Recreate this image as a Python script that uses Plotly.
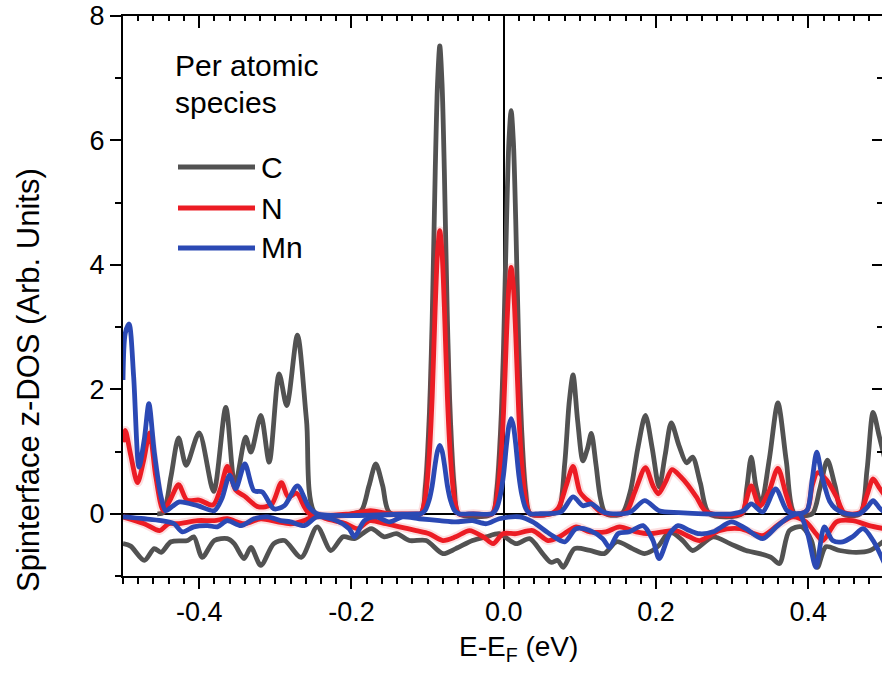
import plotly.graph_objects as go

# Energy axis (eV, relative to E_F) and spinterface z-DOS per atomic species.
# Each species has a positive and a negative branch, drawn in the same colour.

C_POS_E = [-0.455, -0.447, -0.437, -0.427, -0.417, -0.400, -0.381, -0.365, -0.353,
           -0.339, -0.332, -0.319, -0.308, -0.295, -0.285, -0.271, -0.259, -0.247,
           -0.200, -0.187, -0.177, -0.168, -0.159, -0.150,
           -0.109, -0.103, -0.098, -0.094, -0.090, -0.087, -0.084, -0.081, -0.078, -0.074, -0.070, -0.065, -0.059,
           -0.0153, -0.0093, -0.0043, -0.0003, 0.0037, 0.0067, 0.0097, 0.0127, 0.0157, 0.0197, 0.0237, 0.0287, 0.0347,
           0.062, 0.072, 0.080, 0.086, 0.091, 0.097, 0.104, 0.110, 0.115, 0.121, 0.127, 0.134,
           0.155, 0.166, 0.176, 0.186, 0.195, 0.204, 0.212, 0.220, 0.230, 0.240, 0.248, 0.258, 0.270,
           0.313, 0.319, 0.325, 0.331, 0.338, 0.349, 0.360, 0.371, 0.382,
           0.405, 0.415, 0.425, 0.435, 0.445,
           0.468, 0.477, 0.485, 0.493, 0.500]
C_POS_DOS = [0.00, 0.02, 0.60, 1.22, 0.78, 1.30, 0.36, 1.71, 0.45,
             1.23, 0.99, 1.58, 0.83, 2.25, 1.74, 2.87, 1.50, 0.00,
             0.00, 0.05, 0.45, 0.80, 0.45, 0.02,
             0.00, 0.43, 1.50, 3.10, 5.50, 6.90, 7.52, 6.90, 5.50, 3.10, 1.50, 0.43, 0.00,
             0.00, 0.37, 1.30, 2.66, 4.73, 5.96, 6.48, 5.96, 4.73, 2.66, 1.30, 0.37, 0.00,
             0.00, 0.05, 0.80, 1.80, 2.23, 1.50, 0.85, 1.05, 1.29, 0.80, 0.25, 0.00,
             0.00, 0.35, 1.05, 1.58, 1.05, 0.43, 0.95, 1.46, 1.10, 0.82, 0.91, 0.50, 0.00,
             0.00, 0.40, 0.91, 0.45, 0.16, 0.90, 1.78, 0.85, 0.00,
             0.00, 0.40, 0.86, 0.45, 0.00,
             0.00, 0.70, 1.63, 1.25, 0.90]

C_NEG_E = [-0.500, -0.490, -0.472, -0.459, -0.450, -0.437, -0.415, -0.407, -0.396, -0.380,
           -0.363, -0.354, -0.341, -0.332, -0.319, -0.302, -0.288, -0.266, -0.245, -0.227,
           -0.211, -0.196, -0.174, -0.157, -0.141, -0.124, -0.102, -0.080, -0.063, -0.041,
           -0.023, -0.006, 0.016, 0.034, 0.051, 0.062, 0.071, 0.078, 0.093, 0.113,
           0.132, 0.148, 0.169, 0.185, 0.202, 0.218, 0.235, 0.248, 0.275, 0.297,
           0.318, 0.336, 0.351, 0.362, 0.375, 0.391, 0.404, 0.412, 0.423, 0.441,
           0.463, 0.481, 0.500]
C_NEG_DOS = [-0.48, -0.52, -0.75, -0.56, -0.62, -0.45, -0.43, -0.37, -0.70, -0.43,
             -0.40, -0.48, -0.72, -0.54, -0.83, -0.48, -0.43, -0.70, -0.21, -0.59,
             -0.37, -0.40, -0.24, -0.37, -0.32, -0.43, -0.43, -0.64, -0.56, -0.43,
             -0.37, -0.32, -0.48, -0.40, -0.64, -0.78, -0.75, -0.86, -0.56, -0.59,
             -0.64, -0.45, -0.56, -0.64, -0.53, -0.29, -0.43, -0.59, -0.37, -0.48,
             -0.59, -0.64, -0.70, -0.80, -0.27, -0.21, -0.43, -0.86, -0.53, -0.59,
             -0.62, -0.59, -0.43]

N_POS_E = [-0.500, -0.497, -0.490, -0.481, -0.473, -0.465, -0.457, -0.447,
           -0.437, -0.427, -0.416, -0.400, -0.382, -0.372, -0.363, -0.352, -0.340, -0.322,
           -0.305, -0.292, -0.283, -0.272, -0.255,
           -0.200, -0.175, -0.150, -0.115,
           -0.109, -0.103, -0.098, -0.094, -0.090, -0.087, -0.084, -0.081, -0.078, -0.074, -0.070, -0.065, -0.059,
           -0.040,
           -0.0153, -0.0093, -0.0043, -0.0003, 0.0037, 0.0067, 0.0097, 0.0127, 0.0157, 0.0197, 0.0237, 0.0287, 0.0347,
           0.062, 0.072, 0.082, 0.091, 0.100, 0.107, 0.115, 0.125, 0.135,
           0.160, 0.172, 0.186, 0.196, 0.203, 0.212, 0.221, 0.232, 0.242, 0.253, 0.266,
           0.312, 0.318, 0.325, 0.336, 0.348, 0.360, 0.371, 0.381,
           0.398, 0.405, 0.412, 0.424, 0.437, 0.447,
           0.468, 0.477, 0.485, 0.493, 0.500]
N_POS_DOS = [1.15, 1.34, 0.95, 0.50, 0.85, 1.30, 0.60, 0.05,
             0.25, 0.47, 0.22, 0.22, 0.14, 0.40, 0.76, 0.38, 0.28, 0.11,
             0.15, 0.50, 0.27, 0.33, 0.00,
             0.00, 0.05, 0.00, 0.00,
             0.00, 0.26, 0.91, 1.87, 3.32, 4.19, 4.55, 4.19, 3.32, 1.87, 0.91, 0.26, 0.00,
             0.00,
             0.00, 0.23, 0.79, 1.62, 2.89, 3.64, 3.96, 3.64, 2.89, 1.62, 0.79, 0.23, 0.00,
             0.00, 0.10, 0.45, 0.76, 0.35, 0.25, 0.17, 0.05, 0.00,
             0.02, 0.35, 0.74, 0.45, 0.32, 0.50, 0.71, 0.60, 0.46, 0.27, 0.03,
             0.00, 0.20, 0.45, 0.12, 0.35, 0.73, 0.30, 0.00,
             0.05, 0.45, 0.66, 0.54, 0.27, 0.02,
             0.02, 0.30, 0.56, 0.42, 0.30]

N_NEG_E = [-0.500, -0.472, -0.452, -0.440, -0.428, -0.402, -0.380, -0.363, -0.341, -0.319,
           -0.297, -0.280, -0.262, -0.245, -0.233, -0.207, -0.192, -0.176, -0.155, -0.137,
           -0.115, -0.098, -0.080, -0.063, -0.045, -0.027, -0.014, -0.001, 0.016, 0.038,
           0.058, 0.073, 0.095, 0.113, 0.134, 0.152, 0.174, 0.191, 0.209, 0.226,
           0.244, 0.257, 0.283, 0.310, 0.340, 0.362, 0.380, 0.397, 0.410, 0.419,
           0.437, 0.458, 0.480, 0.500]
N_NEG_DOS = [-0.05, -0.16, -0.27, -0.16, -0.16, -0.11, -0.11, -0.08, -0.16, -0.08,
             -0.13, -0.16, -0.11, -0.02, -0.08, -0.16, -0.24, -0.11, -0.16, -0.21,
             -0.27, -0.32, -0.43, -0.37, -0.27, -0.37, -0.48, -0.32, -0.32, -0.27,
             -0.43, -0.37, -0.21, -0.29, -0.29, -0.21, -0.29, -0.32, -0.29, -0.27,
             -0.37, -0.43, -0.27, -0.24, -0.35, -0.16, -0.05, -0.13, -0.32, -0.43,
             -0.13, -0.11, -0.19, -0.24]

MN_POS_E = [-0.500, -0.497, -0.492, -0.486, -0.479, -0.472, -0.466, -0.459, -0.450, -0.444,
            -0.435, -0.426, -0.402, -0.380, -0.370, -0.360, -0.352, -0.340, -0.328, -0.317,
            -0.302, -0.288, -0.271, -0.256, -0.245,
            -0.115,
            -0.109, -0.103, -0.098, -0.094, -0.090, -0.087, -0.084, -0.081, -0.078, -0.074, -0.070, -0.065, -0.059,
            -0.040,
            -0.0153, -0.0093, -0.0043, -0.0003, 0.0037, 0.0067, 0.0097, 0.0127, 0.0157, 0.0197, 0.0237, 0.0287, 0.0347,
            0.045, 0.075, 0.091, 0.104, 0.115, 0.132, 0.165, 0.185, 0.204, 0.230,
            0.300, 0.315, 0.325, 0.340, 0.357, 0.372, 0.385,
            0.398, 0.405, 0.411, 0.418, 0.428, 0.436, 0.450,
            0.467, 0.477, 0.485, 0.493, 0.500]
MN_POS_DOS = [2.15, 2.90, 3.05, 2.20, 0.75, 1.20, 1.77, 1.00, 0.27, 0.05,
              0.12, 0.19, 0.13, 0.05, 0.25, 0.62, 0.40, 0.80, 0.37, 0.35,
              0.08, 0.13, 0.45, 0.11, 0.00,
              0.00,
              0.00, 0.06, 0.22, 0.45, 0.80, 1.01, 1.10, 1.01, 0.80, 0.45, 0.22, 0.06, 0.00,
              0.00,
              0.00, 0.09, 0.31, 0.63, 1.12, 1.41, 1.53, 1.41, 1.12, 0.63, 0.31, 0.09, 0.00,
              0.00, 0.03, 0.27, 0.13, 0.16, 0.02, 0.02, 0.21, 0.05, 0.02,
              0.00, 0.05, 0.16, 0.03, 0.40, 0.05, 0.00,
              0.05, 0.55, 0.99, 0.60, 0.20, 0.08, 0.00,
              0.00, 0.10, 0.21, 0.10, 0.02]

MN_NEG_E = [-0.500, -0.472, -0.450, -0.433, -0.422, -0.407, -0.389, -0.376, -0.363, -0.345,
            -0.328, -0.310, -0.293, -0.280, -0.262, -0.245, -0.220, -0.203, -0.196, -0.183,
            -0.168, -0.150, -0.133, -0.111, -0.084, -0.063, -0.041, -0.023, -0.006, 0.021,
            0.038, 0.060, 0.080, 0.095, 0.113, 0.130, 0.139, 0.150, 0.165, 0.183,
            0.196, 0.204, 0.218, 0.229, 0.244, 0.257, 0.275, 0.299, 0.318, 0.340,
            0.358, 0.375, 0.388, 0.399, 0.410, 0.421, 0.432, 0.445, 0.458, 0.472,
            0.485, 0.500]
MN_NEG_DOS = [-0.05, -0.08, -0.11, -0.16, -0.29, -0.21, -0.19, -0.21, -0.11, -0.19,
              -0.08, -0.05, -0.11, -0.13, -0.19, -0.05, -0.11, -0.24, -0.37, -0.11,
              -0.05, -0.13, -0.05, -0.08, -0.11, -0.13, -0.11, -0.16, -0.08, -0.05,
              -0.13, -0.32, -0.45, -0.24, -0.27, -0.40, -0.54, -0.32, -0.29, -0.19,
              -0.43, -0.72, -0.32, -0.19, -0.27, -0.32, -0.29, -0.13, -0.24, -0.40,
              -0.21, -0.05, 0.00, -0.32, -0.86, -0.21, -0.43, -0.45, -0.37, -0.24,
              -0.43, -0.80]

SPECIES = ["C", "N", "Mn"]
X_TICK_VALS = [-0.4, -0.2, 0.0, 0.2, 0.4]
X_TICK_TEXT = ["-0.4", "-0.2", "0.0", "0.2", "0.4"]
Y_TICK_VALS = [0, 2, 4, 6, 8]
Y_TICK_TEXT = ["0", "2", "4", "6", "8"]

COLORS = {"C": "#525252", "N": "#ec1c24", "Mn": "#2b49b4"}
FONT = "Liberation Sans, Arial, Helvetica, sans-serif"

W, H = 882, 673
ML, MR, MT, MB = 123, 0, 16, 97
X_RANGE = [-0.5, 0.4967]
Y_RANGE = [-1, 8]

series = {
    "C": [(C_POS_E, C_POS_DOS), (C_NEG_E, C_NEG_DOS)],
    "N": [(N_POS_E, N_POS_DOS), (N_NEG_E, N_NEG_DOS)],
    "Mn": [(MN_POS_E, MN_POS_DOS), (MN_NEG_E, MN_NEG_DOS)],
}

fig = go.Figure()
for sp in SPECIES:
    for e, dos in series[sp]:
        if sp == "N":
            # faint halo around the red curves
            fig.add_trace(go.Scatter(
                x=e, y=dos, mode="lines", showlegend=False, hoverinfo="skip",
                line=dict(color="rgba(236,28,36,0.14)", width=9, shape="spline", smoothing=0.8),
            ))
        fig.add_trace(go.Scatter(
            x=e, y=dos, mode="lines", name=sp, showlegend=False,
            line=dict(color=COLORS[sp], width=4.8, shape="spline", smoothing=0.8),
        ))

# empty trace so the mirrored top/right axes get drawn
fig.add_trace(go.Scatter(x=[], y=[], xaxis="x2", yaxis="y2", showlegend=False, hoverinfo="skip"))

tickfont = dict(family=FONT, size=27, color="black")
common = dict(showgrid=False, showline=True, linecolor="black", linewidth=2,
              tickcolor="black", tickwidth=2)

fig.update_layout(
    width=W, height=H,
    margin=dict(l=ML, r=MR, t=MT, b=MB),
    paper_bgcolor="white", plot_bgcolor="white",
    font=dict(family=FONT, color="black"),
    xaxis=dict(range=X_RANGE, tickmode="array", tickvals=X_TICK_VALS, ticktext=X_TICK_TEXT,
               ticks="outside", ticklen=11, tickfont=tickfont,
               minor=dict(tickmode="linear", tick0=0, dtick=0.02, ticks="outside", ticklen=6,
                          tickwidth=2, tickcolor="black"),
               zeroline=True, zerolinecolor="black", zerolinewidth=2, **common),
    yaxis=dict(range=Y_RANGE, tickmode="array", tickvals=Y_TICK_VALS, ticktext=Y_TICK_TEXT,
               ticks="outside", ticklen=11, tickfont=tickfont,
               minor=dict(tickmode="linear", tick0=0, dtick=1, ticks="outside", ticklen=6,
                          tickwidth=2, tickcolor="black"),
               zeroline=True, zerolinecolor="black", zerolinewidth=2, **common),
    xaxis2=dict(range=X_RANGE, overlaying="x", side="top", anchor="y",
                tickmode="linear", tick0=0, dtick=0.2, ticks="inside", ticklen=12,
                showticklabels=False, zeroline=False,
                minor=dict(tickmode="linear", tick0=0, dtick=0.02, ticks="inside", ticklen=5,
                           tickwidth=2, tickcolor="black"),
                **common),
    yaxis2=dict(range=Y_RANGE, overlaying="y", side="right", anchor="x",
                tickmode="linear", tick0=0, dtick=2, ticks="inside", ticklen=10,
                showticklabels=False, zeroline=False,
                minor=dict(tickmode="linear", tick0=0, dtick=1, ticks="inside", ticklen=5,
                           tickwidth=2, tickcolor="black"),
                **common),
)

pw, ph = W - ML - MR, H - MT - MB


def px(x):
    return (x - ML) / pw


def py(y):
    return (H - MB - y) / ph


annotations = [
    dict(text="E-E<sub>F</sub> (eV)", x=px(518), y=py(648), xref="paper", yref="paper",
         xanchor="center", yanchor="middle", showarrow=False,
         font=dict(family=FONT, size=28, color="black")),
    dict(text="Spinterface z-DOS (Arb. Units)", x=px(28), y=py(380), xref="paper", yref="paper",
         xanchor="center", yanchor="middle", textangle=-90, showarrow=False,
         font=dict(family=FONT, size=31, color="black")),
    dict(text="Per atomic", x=px(173), y=py(65), xref="paper", yref="paper",
         xanchor="left", yanchor="middle", showarrow=False,
         font=dict(family=FONT, size=30, color="black")),
    dict(text="species", x=px(173), y=py(102), xref="paper", yref="paper",
         xanchor="left", yanchor="middle", showarrow=False,
         font=dict(family=FONT, size=30, color="black")),
]
shapes = []
legend_rows = [167, 208, 248]
for sp, row in zip(SPECIES, legend_rows):
    shapes.append(dict(type="line", xref="paper", yref="paper",
                       x0=px(178), x1=px(255), y0=py(row), y1=py(row),
                       line=dict(color=COLORS[sp], width=5)))
    annotations.append(dict(text=sp, x=px(259), y=py(row), xref="paper", yref="paper",
                            xanchor="left", yanchor="middle", showarrow=False,
                            font=dict(family=FONT, size=30, color="black")))

fig.update_layout(annotations=annotations, shapes=shapes)

fig.write_html("out.html")
